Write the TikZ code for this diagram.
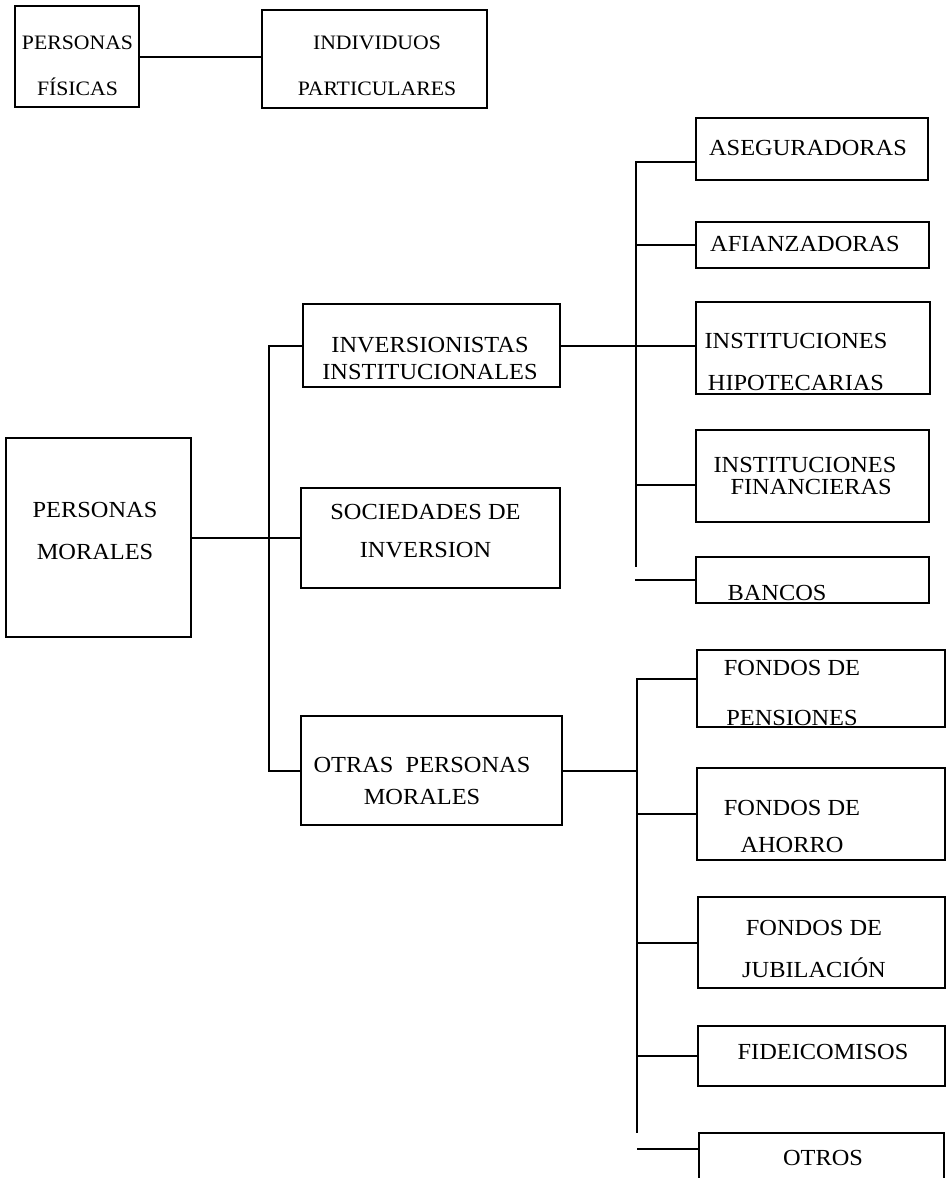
\documentclass[tikz,border=0pt]{standalone}
\usepackage{fontspec}
\setmainfont{Liberation Serif}[FakeStretch=1.06]
\tikzset{
  caja/.style={draw=black, line width=1.5pt, rectangle, inner sep=0pt},
  rotulo/.style={inner sep=0pt, align=center},
  rama/.style={draw=black, line width=2pt},
}
\newcommand{\tam}[2][23]{\fontsize{#1}{#2}\selectfont}

\begin{document}
\begin{tikzpicture}[x=1pt, y=-1pt]
  \useasboundingbox (0,0) rectangle (947,1178);
  \clip (0,0) rectangle (947,1178);
  % Personas fisicas
  \node[caja, minimum width=124pt, minimum height=101pt] (fis) at (77,56.5) {};
  \node[rotulo, font={\tam[20.5]{46}}] (fis-t) at (77.5,66) {PERSONAS\\FÍSICAS};
  \node[caja, minimum width=225pt, minimum height=98pt] (ind) at (374.5,59) {};
  \node[rotulo, font={\tam[20.5]{46}}] (ind-t) at (377,66) {INDIVIDUOS\\PARTICULARES};
  \draw[rama] (fis.east) -- (fis.east -| ind.west);
  % Personas morales
  \node[caja, minimum width=185pt, minimum height=199pt] (mor) at (98.5,537.5) {};
  \node[rotulo, font=\tam{42}] (mor-t) at (95,531) {PERSONAS\\MORALES};
  \node[caja, minimum width=257pt, minimum height=83pt] (inv) at (431.5,345.5) {};
  \node[rotulo, font=\tam{27}] (inv-t) at (430,358.5) {INVERSIONISTAS\\INSTITUCIONALES};
  \node[caja, minimum width=259pt, minimum height=100pt] (soc) at (430.5,538) {};
  \node[rotulo, font=\tam{38}] (soc-t) at (425.5,531) {SOCIEDADES DE\\INVERSION};
  \node[caja, minimum width=261pt, minimum height=109pt] (otr) at (431.5,770.5) {};
  \node[rotulo, font=\tam{32}] (otr-t) at (422,781) {OTRAS~ PERSONAS\\MORALES};
  \draw[rama] (mor.east) -- (mor.east -| soc.west);
  \draw[rama] (inv.west) -- ++(-33,0) |- (otr.west);
  % Inversionistas institucionales
  \node[caja, minimum width=232pt, minimum height=62pt] (ase) at (812,149) {};
  \node[rotulo, font=\tam{26}] (ase-t) at (808,148) {ASEGURADORAS};
  \node[caja, minimum width=233pt, minimum height=46pt] (afi) at (812.5,245) {};
  \node[rotulo, font=\tam{26}] (afi-t) at (805,244) {AFIANZADORAS};
  \node[caja, minimum width=234pt, minimum height=92pt] (hip) at (813,348) {};
  \node[rotulo, font=\tam{42}] (hip-t) at (796,362) {INSTITUCIONES\\HIPOTECARIAS};
  \node[caja, minimum width=233pt, minimum height=92pt] (fin) at (812.5,476) {};
  \node[rotulo, font=\tam{22}] (fin-t) at (805,475.5) {INSTITUCIONES\\\ \ FINANCIERAS};
  \node[caja, minimum width=233pt, minimum height=46pt] (ban) at (812.5,580) {};
  \node[rotulo, font=\tam{26}] (ban-t) at (777,593) {BANCOS};
  \coordinate (bus1) at (636,567);
  \draw[rama] (inv.east) -- (inv.east -| hip.west);
  \draw[rama] ([yshift=-13pt]ase.west) -| (bus1);
  \draw[rama] (afi.west) -- ++(-60,0);
  \draw[rama] ([yshift=-9pt]fin.west) -- ++(-60,0);
  \draw[rama] (ban.west) -- ++(-60,0);
  % Otras personas morales
  \node[caja, minimum width=248pt, minimum height=77pt] (pen) at (821,688.5) {};
  \node[rotulo, font=\tam{50}] (pen-t) at (792,693) {FONDOS DE\\PENSIONES};
  \node[caja, minimum width=248pt, minimum height=92pt] (aho) at (821,814) {};
  \node[rotulo, font=\tam{37}] (aho-t) at (792,826.5) {FONDOS DE\\AHORRO};
  \node[caja, minimum width=247pt, minimum height=91pt] (jub) at (821.5,942.5) {};
  \node[rotulo, font=\tam{42}] (jub-t) at (814,949) {FONDOS DE\\JUBILACIÓN};
  \node[caja, minimum width=247pt, minimum height=60pt] (fid) at (821.5,1056) {};
  \node[rotulo, font=\tam{26}] (fid-t) at (823,1052) {FIDEICOMISOS};
  \node[caja, minimum width=245pt, minimum height=57pt] (otros) at (821.5,1161.5) {};
  \node[rotulo, font=\tam{26}] (otros-t) at (823,1158) {OTROS};
  \coordinate (bus2) at (637,1133);
  \draw[rama] (otr.east) -- (otr.east -| bus2);
  \draw[rama] ([yshift=9.5pt]pen.west) -| (bus2);
  \draw[rama] (aho.west) -- ++(-60,0);
  \draw[rama] (jub.west) -- ++(-60,0);
  \draw[rama] (fid.west) -- ++(-60,0);
  \draw[rama] ([yshift=12.5pt]otros.west) -- ++(-61,0);
\end{tikzpicture}
\end{document}
